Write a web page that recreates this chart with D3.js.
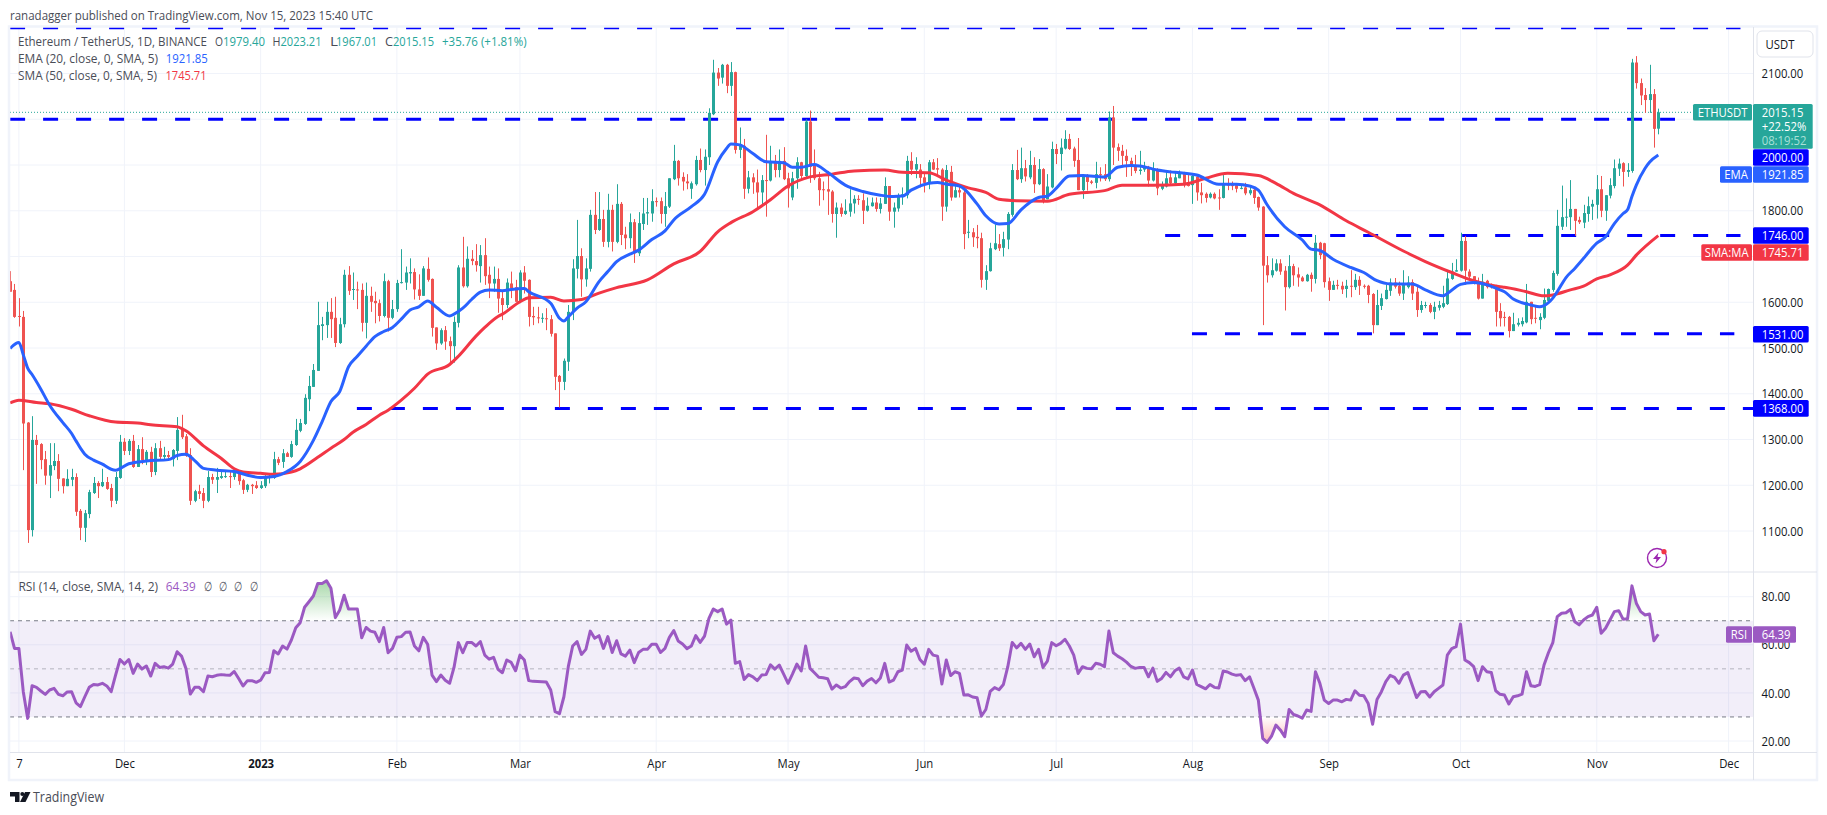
<!DOCTYPE html>
<html>
<head>
<meta charset="utf-8">
<title>ETHUSDT</title>
<script src="https://cdn.jsdelivr.net/npm/d3@7/dist/d3.min.js"></script>
<style>
  body { margin: 0; background: #fff; }
  svg { display: block; }
  text { font-family: "Open Sans", sans-serif; }
</style>
</head>
<body>
<svg id="chart" width="1827" height="815"></svg>
<script>
// daily candles, first bar is 2022-11-05
const firstDay = '2022-11-05';
const lastDay = '2023-11-15';

const opens = [
  1646,1627,1570,1568,1337,1102,1299,1290,1257,1221,
  1242,1253,1215,1198,1212,1218,1144,1107,1137,1183,
  1205,1198,1207,1194,1166,1216,1295,1275,1297,1240,
  1279,1255,1273,1229,1281,1262,1266,1257,1275,1321,
  1307,1266,1166,1187,1183,1166,1218,1212,1216,1218,
  1220,1218,1231,1211,1190,1201,1200,1194,1198,1216,
  1216,1257,1251,1270,1262,1288,1319,1334,1388,1415,
  1450,1548,1550,1579,1566,1511,1552,1660,1627,1628,
  1627,1555,1614,1603,1598,1570,1646,1566,1585,1642,
  1643,1663,1666,1628,1614,1673,1651,1545,1510,1539,
  1515,1504,1555,1676,1635,1695,1690,1679,1703,1660,
  1641,1651,1609,1594,1641,1633,1601,1665,1649,1570,
  1567,1565,1565,1563,1532,1439,1426,1470,1579,1673,
  1701,1650,1673,1791,1758,1782,1732,1802,1732,1815,
  1748,1740,1775,1707,1771,1794,1794,1821,1821,1793,
  1809,1869,1909,1874,1864,1848,1858,1911,1889,1917,
  2011,2102,2091,2119,2073,2103,1933,1942,1848,1873,
  1862,1840,1867,1866,1909,1889,1909,1871,1829,1871,
  1906,1876,1995,1898,1871,1847,1847,1842,1793,1807,
  1793,1798,1816,1826,1823,1800,1810,1818,1804,1815,
  1854,1798,1805,1834,1834,1909,1890,1890,1873,1861,
  1906,1893,1890,1809,1885,1829,1845,1840,1753,1753,
  1743,1740,1649,1668,1716,1727,1719,1737,1791,1889,
  1869,1893,1873,1900,1858,1891,1825,1851,1935,1924,
  1936,1957,1936,1911,1845,1874,1864,1861,1880,1880,
  1869,2004,1939,1931,1920,1909,1900,1887,1890,1896,
  1866,1890,1848,1853,1873,1860,1871,1882,1858,1856,
  1875,1840,1837,1829,1837,1829,1828,1858,1856,1856,
  1848,1851,1838,1846,1830,1809,1681,1659,1669,1685,
  1669,1633,1679,1661,1654,1646,1660,1651,1730,1729,
  1646,1627,1638,1636,1629,1636,1633,1649,1636,1636,
  1618,1550,1592,1607,1625,1643,1636,1619,1633,1644,
  1623,1583,1592,1594,1579,1588,1590,1596,1651,1667,
  1669,1734,1667,1657,1646,1608,1647,1638,1636,1581,
  1568,1568,1537,1551,1552,1556,1601,1566,1561,1566,
  1603,1627,1662,1765,1786,1786,1804,1780,1774,1793,
  1809,1813,1847,1800,1833,1854,1892,1904,1885,1887,
  2124,2079,2053,2042,2055,1979.40
];
const highs = [
  1668,1640,1609,1581,1338,1351,1310,1292,1275,1292,
  1292,1268,1215,1235,1236,1226,1148,1146,1190,1218,
  1209,1236,1218,1203,1229,1310,1303,1301,1310,1288,
  1305,1277,1284,1292,1297,1284,1275,1279,1349,1354,
  1312,1281,1190,1201,1194,1231,1225,1238,1231,1231,
  1229,1233,1233,1214,1203,1203,1209,1209,1222,1225,
  1273,1262,1279,1273,1297,1345,1345,1399,1439,1465,
  1601,1568,1601,1609,1612,1566,1671,1679,1665,1645,
  1641,1643,1634,1623,1606,1663,1649,1605,1649,1716,
  1678,1696,1674,1661,1679,1698,1652,1545,1543,1548,
  1525,1569,1681,1743,1722,1714,1727,1725,1740,1678,
  1678,1674,1627,1652,1667,1649,1670,1679,1650,1590,
  1590,1576,1587,1572,1532,1441,1477,1594,1694,1780,
  1718,1696,1802,1841,1841,1802,1837,1813,1858,1819,
  1765,1794,1782,1797,1828,1828,1847,1829,1829,1841,
  1871,1944,1911,1884,1880,1864,1920,1936,1934,2024,
  2130,2112,2121,2121,2125,2104,1982,1957,1887,1882,
  1890,1878,1966,1942,1922,1934,1939,1883,1885,1917,
  1907,2000,2019,1934,1885,1864,1887,1845,1818,1816,
  1825,1847,1834,1834,1838,1829,1829,1829,1828,1873,
  1854,1818,1838,1851,1920,1928,1917,1902,1884,1911,
  1913,1915,1893,1900,1898,1860,1856,1845,1780,1762,
  1769,1752,1681,1730,1770,1749,1754,1797,1902,1933,
  1938,1911,1931,1917,1913,1893,1880,1951,1946,1958,
  1976,1968,1940,1959,1880,1880,1867,1907,1895,1902,
  2017,2029,1947,1944,1934,1916,1922,1931,1907,1898,
  1906,1893,1864,1888,1888,1885,1888,1885,1878,1878,
  1878,1861,1840,1840,1840,1847,1878,1871,1864,1860,
  1858,1861,1853,1848,1831,1810,1701,1696,1694,1694,
  1679,1703,1684,1676,1657,1662,1665,1747,1732,1730,
  1654,1647,1649,1645,1649,1670,1662,1657,1639,1638,
  1620,1627,1619,1638,1652,1653,1645,1670,1657,1650,
  1634,1603,1601,1598,1601,1603,1636,1667,1686,1694,
  1752,1745,1672,1657,1654,1662,1649,1641,1638,1598,
  1579,1570,1577,1565,1567,1640,1601,1590,1576,1630,
  1630,1669,1802,1855,1827,1867,1804,1787,1813,1831,
  1824,1878,1876,1834,1871,1912,1914,1906,1904,2132,
  2138,2089,2068,2119,2066,2023.21
];
const lows = [
  1623,1566,1547,1233,1074,1088,1203,1235,1201,1172,
  1233,1187,1182,1198,1198,1133,1080,1076,1128,1181,
  1172,1196,1190,1152,1159,1214,1266,1266,1238,1240,
  1246,1244,1218,1222,1253,1255,1255,1241,1255,1301,
  1262,1157,1163,1170,1150,1163,1203,1183,1214,1216,
  1194,1212,1201,1181,1185,1181,1192,1192,1194,1204,
  1214,1244,1238,1262,1260,1286,1316,1332,1362,1415,
  1450,1517,1522,1522,1502,1509,1545,1616,1605,1585,
  1536,1521,1579,1554,1558,1567,1536,1563,1579,1641,
  1627,1641,1606,1605,1614,1645,1525,1496,1507,1496,
  1463,1468,1545,1632,1632,1681,1667,1643,1638,1609,
  1623,1577,1561,1587,1609,1601,1598,1619,1547,1550,
  1554,1555,1539,1525,1408,1370,1408,1450,1561,1652,
  1612,1634,1667,1749,1756,1721,1720,1711,1729,1725,
  1716,1718,1686,1701,1758,1769,1776,1809,1772,1765,
  1806,1867,1855,1844,1847,1826,1855,1884,1855,1900,
  2009,2073,2078,2057,2051,1925,1915,1826,1838,1837,
  1805,1813,1787,1864,1873,1873,1867,1807,1823,1848,
  1867,1874,1861,1867,1811,1823,1791,1774,1741,1787,
  1791,1787,1794,1813,1771,1798,1809,1798,1794,1815,
  1778,1763,1798,1813,1827,1878,1871,1851,1840,1847,
  1889,1878,1778,1798,1822,1829,1829,1716,1740,1721,
  1718,1632,1627,1667,1714,1712,1700,1716,1787,1867,
  1861,1864,1869,1839,1856,1816,1825,1849,1902,1888,
  1934,1933,1896,1845,1826,1844,1858,1849,1864,1865,
  1864,1900,1909,1900,1874,1876,1882,1879,1885,1853,
  1864,1834,1845,1851,1856,1856,1871,1851,1853,1815,
  1822,1816,1818,1827,1825,1802,1827,1845,1845,1840,
  1847,1834,1834,1815,1800,1550,1643,1654,1667,1660,
  1582,1630,1636,1634,1645,1645,1623,1641,1694,1632,
  1603,1627,1628,1618,1610,1611,1627,1616,1630,1598,
  1532,1550,1583,1606,1614,1630,1614,1605,1630,1605,
  1568,1577,1587,1576,1563,1582,1587,1594,1649,1667,
  1667,1638,1649,1639,1606,1608,1630,1630,1547,1547,
  1547,1523,1537,1547,1547,1554,1552,1554,1541,1563,
  1601,1623,1658,1758,1765,1758,1745,1771,1762,1776,
  1780,1783,1786,1778,1827,1849,1876,1853,1874,1883,
  2067,2031,2014,2014,1938,1967.01
];
const closes = [
  1623,1568,1568,1335,1102,1299,1288,1255,1221,1244,
  1253,1214,1198,1214,1218,1142,1107,1139,1185,1205,
  1198,1207,1192,1166,1218,1295,1275,1297,1240,1279,
  1255,1273,1229,1281,1262,1266,1262,1277,1321,1305,
  1264,1166,1187,1181,1166,1218,1212,1218,1220,1220,
  1218,1229,1209,1190,1201,1198,1194,1200,1218,1220,
  1257,1249,1270,1262,1290,1321,1336,1391,1417,1452,
  1550,1552,1579,1563,1511,1552,1660,1625,1629,1627,
  1555,1614,1601,1598,1570,1646,1566,1585,1642,1644,
  1665,1666,1628,1614,1674,1649,1544,1510,1539,1514,
  1504,1557,1676,1635,1695,1690,1681,1703,1657,1641,
  1651,1608,1594,1643,1630,1601,1665,1647,1568,1567,
  1565,1566,1563,1531,1437,1426,1472,1579,1674,1701,
  1650,1674,1791,1758,1782,1732,1802,1732,1815,1747,
  1740,1775,1707,1773,1794,1797,1821,1819,1793,1810,
  1871,1909,1871,1864,1860,1860,1911,1889,1918,2014,
  2102,2089,2119,2073,2103,1933,1942,1848,1873,1862,
  1840,1867,1866,1909,1889,1909,1869,1849,1871,1906,
  1876,1995,1896,1871,1845,1845,1842,1793,1807,1793,
  1800,1816,1826,1824,1800,1811,1818,1804,1816,1854,
  1798,1807,1834,1836,1909,1890,1902,1872,1861,1906,
  1890,1890,1809,1889,1829,1845,1840,1749,1754,1742,
  1740,1649,1668,1718,1729,1718,1738,1793,1889,1869,
  1893,1875,1900,1858,1891,1822,1853,1935,1924,1938,
  1957,1935,1909,1845,1877,1863,1861,1880,1878,1869,
  2004,1938,1931,1920,1909,1898,1887,1890,1898,1866,
  1890,1849,1858,1871,1860,1873,1884,1856,1854,1876,
  1840,1834,1828,1837,1827,1828,1858,1855,1854,1848,
  1850,1838,1845,1828,1807,1680,1659,1670,1685,1667,
  1633,1679,1659,1654,1646,1660,1651,1730,1703,1644,
  1627,1638,1636,1628,1636,1634,1649,1636,1634,1616,
  1550,1594,1609,1627,1643,1634,1619,1641,1643,1619,
  1583,1594,1594,1579,1590,1594,1598,1652,1667,1670,
  1734,1669,1656,1645,1608,1645,1633,1636,1579,1565,
  1566,1537,1552,1555,1559,1601,1563,1564,1568,1605,
  1629,1664,1767,1786,1787,1804,1778,1775,1795,1810,
  1815,1847,1800,1834,1856,1893,1903,1885,1889,2124,
  2079,2052,2042,2055,1979,2015.15
];

const emaBars = [
  0,2,3,4,5,7,9,12,14,15,16,17,19,21,23,24,27,31,36,38,40,42,44,47,51,54,57,60,63,66,69,71,73,75,77,79,81,83,85,87,
  89,91,93,95,97,100,101,103,105,107,109,112,114,117,118,123,125,126,127,129,131,134,136,138,141,143,146,149,151,155,
  158,161,163,164,166,169,172,176,178,180,183,186,190,194,198,201,203,205,209,211,213,216,220,222,225,227,230,232,234,236,
  238,241,244,249,252,255,257,261,265,270,275,279,282,284,286,290,294,296,298,301,305,308,311,314,319,322,326,327,330,333,
  336,339,340,342,344,346,348,350,351,352,354,356,358,361,363,365,367,368,369,370,372,373,375
];
const emaValues = [
  1499,1512,1485,1456,1442,1410,1375,1337,1313,1297,1281,1268,1255,1246,1235,1233,1247,1253,1256,1265,1268,1254,1237,1233,1230,1222,1217,1219,1230,1252,1298,1339,1383,1405,1459,1482,1504,1525,1536,1545,
  1563,1583,1590,1603,1589,1570,1574,1587,1606,1622,1627,1625,1628,1630,1623,1598,1565,1559,1568,1587,1601,1645,1667,1689,1705,1714,1737,1756,1780,1809,
  1836,1907,1936,1946,1944,1925,1907,1905,1895,1895,1901,1884,1856,1842,1834,1831,1832,1845,1860,1862,1858,1854,1815,1789,1771,1772,1802,1818,1829,1832,
  1849,1876,1877,1874,1895,1899,1898,1889,1884,1878,1858,1858,1854,1845,1813,1765,1736,1716,1713,1694,1676,1665,1647,1640,1640,1627,1614,1619,1639,1643,
  1638,1627,1623,1607,1599,1594,1590,1599,1609,1623,1654,1674,1696,1729,1743,1772,1794,1802,1831,1856,1893,1906,1921.85
];
const smaBars = [
  0,2,6,9,14,18,24,29,32,38,40,44,48,51,53,57,60,64,66,70,73,76,78,81,84,86,89,92,95,100,102,106,108,111,
  112,116,118,123,126,130,134,138,145,151,157,161,164,169,173,177,182,187,192,199,203,209,213,218,222,225,
  229,236,241,249,253,260,267,272,277,284,288,292,298,304,309,317,322,328,333,339,340,345,349,351,355,358,361,364,368,370,375
];
const smaValues = [
  1380,1386,1381,1378,1366,1352,1338,1336,1332,1328,1319,1286,1259,1236,1229,1226,1224,1229,1236,1261,1281,1300,1316,1333,1353,1364,1386,1412,1443,1464,1482,1526,1545,1569,
  1574,1601,1610,1611,1603,1606,1620,1632,1649,1684,1711,1754,1774,1798,1824,1854,1874,1880,1887,1889,1884,1883,1867,1850,1840,1825,
  1822,1821,1836,1844,1856,1856,1858,1871,1882,1877,1860,1838,1813,1778,1753,1712,1689,1665,1647,1634,1633,1623,1614,1616,1627,1635,1651,1660,1681,1703,1745.71
];

const rsiValues = [
  65.4,58.5,58.5,40.5,29.4,43,42.3,40.8,39.4,41.2,
  41.9,39.4,38.8,40.4,40.5,35.9,34.3,38.4,42.3,43.5,
  43.3,44,42.9,40.5,47.4,53.9,52,53.9,48.1,52,
  49.9,51.2,47,52.3,50.6,50.9,50.3,52,57.1,55.3,
  50.2,39.5,42.3,42.3,40.5,47,46.7,47.3,47.6,47.4,
  47.3,48.9,46,42.9,45.1,45.1,44.4,45.3,48.4,48.5,
  57.5,56.2,59.5,58.2,62,67.1,69.2,75.6,77.9,80.3,
  85.5,85.5,86.6,83.5,71.3,74.5,80.6,74.9,74.9,74.9,
  62.9,67.2,65.7,65.2,61.3,67.2,56.7,58.5,63.1,63.4,
  65.2,65.3,59.5,57.5,63.1,60.2,47.4,44.7,47.4,45.3,
  44,50.6,60.9,56.7,61,61,59.5,61.3,55.7,54,
  54.8,49.8,48.4,53.7,52.7,49.2,55.7,53.7,45.1,44.8,
  44.7,44.6,44.5,41.2,32.2,31.4,38.4,50.9,59.5,61.3,
  56,58.1,65.7,62.7,63.8,58.5,63.4,56.8,61.7,56.2,
  55.3,57.8,52.6,56.8,58.1,58.1,60.2,60.2,56.8,58.5,
  63.1,65.9,61.6,60.3,58.4,59.5,63.8,61,63.6,71,
  74.9,73.8,74.9,68.6,70.3,52.3,53,45.6,47.6,46.7,
  45.1,47.4,47.6,51.7,49.9,51.6,47.8,44,47.8,52,
  49.1,59.5,50.2,48.4,46.5,46.3,45.9,41.6,43.3,42,
  42.6,44.7,46.2,45.9,43,44.9,46,44.2,46.2,52.3,
  44.5,45.3,48.8,49.5,59.9,57.3,58.5,53.9,51.9,58.1,
  55.7,55.3,43.7,53.7,47.2,48.8,48.1,39.1,39.2,38.3,
  38,30.4,33.1,40.6,42.2,41.3,43.5,50.9,61,58.7,
  60.6,58.1,60.3,55,58.1,50.6,53.2,60.9,59.6,60.6,
  62.3,59.5,55.7,48.1,50.9,50.2,50,52.3,51.9,50.9,
  65.7,56.7,55.3,54.2,52.8,51,50.2,50.6,50.6,46.7,
  50.3,44.8,46,48.5,46.7,49.2,50.3,46.7,45.8,49.5,
  43.5,42.6,41.7,43.5,42.3,42,49.1,48.7,47.8,47.3,
  47.6,45.1,46.7,41.9,37,21.1,19.4,22,26.6,24.6,
  21.8,33.1,31,30.4,29.5,32.9,32.3,48.8,44,37,
  35.6,37,37,36.3,37.3,37,40.9,39,38.8,35.6,
  27,37.3,40.5,44.7,47.3,46.5,44,47.4,48.5,43.3,
  38.1,40.5,40.6,38.3,40.5,41.9,43.3,55.7,58.4,59.2,
  68.6,53.7,52.6,50.9,45.1,50.9,48.8,48.5,40.9,39.4,
  39.1,35.4,38.4,38.8,39.5,48.8,43,42.7,43.4,51.6,
  56.7,60.9,71.7,73.1,73.3,74.7,69.6,68.3,70.3,71.7,
  72.4,75.6,64.8,66.9,70.3,73.8,74.2,70.6,70.8,84.5,
  77.3,73.8,72.4,72.8,61.7,64.39
];

// horizontal levels drawn by the author, from bar to bar
const levelPrices = [2200, 2000, 1746, 1531, 1368];
const levelFrom = [0, 0, 262.8, 268.9, 78.9];
const levelTo = [393.7, 378.8, 393.7, 392.3, 396.6];

const priceGrid = [2100, 2000, 1900, 1800, 1700, 1600, 1500, 1400, 1300, 1200, 1100];
const priceTicks = [2100, 1800, 1600, 1500, 1400, 1300, 1200, 1100];
const rsiTicks = [80, 60, 40, 20];
const timeDates = ['2022-11-07', '2022-12-01', '2023-01-01', '2023-02-01', '2023-03-01', '2023-04-01',
  '2023-05-01', '2023-06-01', '2023-07-01', '2023-08-01', '2023-09-01', '2023-10-01', '2023-11-01', '2023-12-01'];
const timeLabels = ['7', 'Dec', '2023', 'Feb', 'Mar', 'Apr', 'May', 'Jun', 'Jul', 'Aug', 'Sep', 'Oct', 'Nov', 'Dec'];

const upColor = '#26a69a';
const downColor = '#ef5350';
const emaColor = '#2962ff';
const smaColor = '#f23645';
const rsiColor = '#9b59c2';
const levelColor = '#0000ff';
const gridColor = '#f0f3fa';
const borderColor = '#e0e3eb';
const textColor = '#131722';
const legendColor = '#4a4d57';

const paneLeft = 10, paneRight = 1753, paneTop = 27, paneBottom = 572, rsiBottom = 752, axisBottom = 780, outerRight = 1817;

const svg = d3.select('#chart');
const bar = i => d3.utcDay.offset(new Date(firstDay), i);

const x = d3.scaleUtc().domain([new Date(firstDay), new Date(lastDay)]).range([10.1, 1658.3]);
const y = d3.scaleLinear().domain([1100, 2100]).range([531, 73.5]);
const yRsi = d3.scaleLinear().domain([20, 80]).range([741, 596.7]);
const xBar = i => x(bar(0)) + i * (x(bar(1)) - x(bar(0)));

// the reference font runs narrower than Open Sans
const narrow = 0.87;
const squeeze = sel => sel.each(function () {
  d3.select(this).attr('textLength', this.getComputedTextLength() * narrow).attr('lengthAdjust', 'spacingAndGlyphs');
});

const defs = svg.append('defs');
defs.append('clipPath').attr('id', 'mainClip').append('rect')
  .attr('x', paneLeft).attr('y', paneTop).attr('width', paneRight - paneLeft).attr('height', paneBottom - paneTop);
defs.append('clipPath').attr('id', 'rsiClip').append('rect')
  .attr('x', paneLeft).attr('y', paneBottom).attr('width', paneRight - paneLeft).attr('height', rsiBottom - paneBottom);

const greenFade = defs.append('linearGradient').attr('id', 'greenFade').attr('gradientUnits', 'userSpaceOnUse')
  .attr('x1', 0).attr('x2', 0).attr('y1', yRsi(87)).attr('y2', yRsi(70));
greenFade.append('stop').attr('offset', 0).attr('stop-color', '#4caf50').attr('stop-opacity', 0.5);
greenFade.append('stop').attr('offset', 1).attr('stop-color', '#4caf50').attr('stop-opacity', 0);
const redFade = defs.append('linearGradient').attr('id', 'redFade').attr('gradientUnits', 'userSpaceOnUse')
  .attr('x1', 0).attr('x2', 0).attr('y1', yRsi(30)).attr('y2', yRsi(19));
redFade.append('stop').attr('offset', 0).attr('stop-color', '#ff5252').attr('stop-opacity', 0);
redFade.append('stop').attr('offset', 1).attr('stop-color', '#ff5252').attr('stop-opacity', 0.4);

// grid
const grid = svg.append('g');
grid.selectAll('.vgrid').data(timeDates).enter().append('line')
  .attr('x1', d => x(new Date(d))).attr('x2', d => x(new Date(d)))
  .attr('y1', paneTop).attr('y2', rsiBottom)
  .attr('stroke', gridColor).attr('stroke-width', 1);
grid.selectAll('.pgrid').data(priceGrid).enter().append('line')
  .attr('x1', paneLeft).attr('x2', paneRight)
  .attr('y1', d => y(d)).attr('y2', d => y(d))
  .attr('stroke', gridColor).attr('stroke-width', 1);
grid.selectAll('.rgrid').data(rsiTicks).enter().append('line')
  .attr('x1', paneLeft).attr('x2', paneRight)
  .attr('y1', d => yRsi(d)).attr('y2', d => yRsi(d))
  .attr('stroke', gridColor).attr('stroke-width', 1);

// main pane
const main = svg.append('g').attr('clip-path', 'url(#mainClip)');

main.selectAll('.level').data(levelPrices).enter().append('line')
  .attr('x1', (d, i) => xBar(levelFrom[i])).attr('x2', (d, i) => xBar(levelTo[i]))
  .attr('y1', d => y(d)).attr('y2', d => y(d))
  .attr('stroke', levelColor).attr('stroke-width', 3).attr('stroke-dasharray', '15 18');

main.append('line')
  .attr('x1', paneLeft).attr('x2', 1693)
  .attr('y1', y(closes[closes.length - 1])).attr('y2', y(closes[closes.length - 1]))
  .attr('stroke', upColor).attr('stroke-width', 1).attr('stroke-dasharray', '1 2');

const candles = main.selectAll('.candle').data(opens).enter().append('g');
candles.append('line')
  .attr('x1', (d, i) => Math.round(xBar(i)) + 0.5).attr('x2', (d, i) => Math.round(xBar(i)) + 0.5)
  .attr('y1', (d, i) => y(highs[i])).attr('y2', (d, i) => y(lows[i]))
  .attr('stroke', (d, i) => closes[i] >= d ? upColor : downColor);
candles.append('rect')
  .attr('x', (d, i) => Math.round(xBar(i)) - 1)
  .attr('width', 3)
  .attr('y', (d, i) => y(Math.max(d, closes[i])))
  .attr('height', (d, i) => Math.max(1, Math.abs(y(d) - y(closes[i]))))
  .attr('fill', (d, i) => closes[i] >= d ? upColor : downColor);

const avgLine = d3.line().x(d => xBar(d[0])).y(d => y(d[1])).curve(d3.curveMonotoneX);
main.append('path').datum(d3.zip(smaBars, smaValues))
  .attr('d', avgLine).attr('fill', 'none').attr('stroke', smaColor).attr('stroke-width', 3).attr('stroke-linejoin', 'round');
main.append('path').datum(d3.zip(emaBars, emaValues))
  .attr('d', avgLine).attr('fill', 'none').attr('stroke', emaColor).attr('stroke-width', 3).attr('stroke-linejoin', 'round');

// rsi pane
const rsiPane = svg.append('g').attr('clip-path', 'url(#rsiClip)');
rsiPane.append('rect')
  .attr('x', paneLeft).attr('width', paneRight - paneLeft)
  .attr('y', yRsi(70)).attr('height', yRsi(30) - yRsi(70))
  .attr('fill', '#7e57c2').attr('fill-opacity', 0.1);
rsiPane.append('path').datum(rsiValues)
  .attr('d', d3.area().x((d, i) => xBar(i)).y0(yRsi(70)).y1(d => yRsi(Math.max(d, 70))))
  .attr('fill', 'url(#greenFade)');
rsiPane.append('path').datum(rsiValues)
  .attr('d', d3.area().x((d, i) => xBar(i)).y0(yRsi(30)).y1(d => yRsi(Math.min(d, 30))))
  .attr('fill', 'url(#redFade)');
rsiPane.selectAll('.band').data([70, 50, 30]).enter().append('line')
  .attr('x1', paneLeft).attr('x2', paneRight)
  .attr('y1', d => yRsi(d)).attr('y2', d => yRsi(d))
  .attr('stroke', '#787b86').attr('stroke-opacity', d => d === 50 ? 0.5 : 1)
  .attr('stroke-dasharray', '4 4');
rsiPane.append('path').datum(rsiValues)
  .attr('d', d3.line().x((d, i) => xBar(i)).y(d => yRsi(d)))
  .attr('fill', 'none').attr('stroke', rsiColor).attr('stroke-width', 3).attr('stroke-linejoin', 'round');

// frame
const frame = svg.append('g');
frame.append('rect')
  .attr('x', 9).attr('y', 26.5).attr('width', outerRight - 9).attr('height', axisBottom - 26.5)
  .attr('fill', 'none').attr('stroke', gridColor).attr('stroke-width', 2.5);
[[paneLeft, paneBottom, outerRight, paneBottom], [paneLeft, rsiBottom + 0.5, outerRight, rsiBottom + 0.5], [paneRight + 0.5, paneTop, paneRight + 0.5, axisBottom]]
  .forEach(s => frame.append('line')
    .attr('x1', s[0]).attr('y1', s[1]).attr('x2', s[2]).attr('y2', s[3])
    .attr('stroke', borderColor).attr('stroke-width', 1));

// axes
const styleAxis = g => {
  g.select('.domain').remove();
  g.selectAll('.tick line').remove();
  g.selectAll('.tick text').attr('fill', textColor).attr('font-size', 13).style('font-family', '"Open Sans", sans-serif').call(squeeze);
};
svg.append('g').attr('transform', `translate(${paneRight},0)`)
  .call(d3.axisRight(y).tickValues(priceTicks).tickSize(0).tickPadding(8.5).tickFormat(d3.format('.2f')))
  .call(styleAxis);
svg.append('g').attr('transform', `translate(${paneRight},0)`)
  .call(d3.axisRight(yRsi).tickValues(rsiTicks).tickSize(0).tickPadding(8.5).tickFormat(d3.format('.2f')))
  .call(styleAxis);
svg.append('g').attr('transform', `translate(0,${rsiBottom})`)
  .call(d3.axisBottom(x).tickValues(timeDates.map(d => new Date(d))).tickSize(0).tickPadding(7)
    .tickFormat((d, i) => timeLabels[i]))
  .call(styleAxis)
  .selectAll('.tick text').attr('font-weight', (d, i) => timeLabels[i] === '2023' ? 700 : 400);

// price scale tags
const tag = (x0, x1, yMid, fill, label) => {
  svg.append('rect').attr('x', x0).attr('y', yMid - 8.3).attr('width', x1 - x0).attr('height', 16.6).attr('rx', 1.5).attr('fill', fill);
  svg.append('text').attr('x', x0 === paneRight ? 1761.7 : (x0 + x1) / 2).attr('y', yMid)
    .attr('dy', '.35em').attr('text-anchor', x0 === paneRight ? 'start' : 'middle')
    .attr('fill', '#fff').attr('font-size', 13).text(label).call(squeeze);
};
tag(paneRight, 1808.7, 157.5, levelColor, '2000.00');
tag(paneRight, 1808.7, 174.5, emaColor, '1921.85');
tag(1720, 1752, 174.5, emaColor, 'EMA');
tag(paneRight, 1808.7, 235.5, levelColor, '1746.00');
tag(paneRight, 1808.7, 252.5, smaColor, '1745.71');
tag(1701.3, 1752, 252.5, smaColor, 'SMA:MA');
tag(paneRight, 1808.7, 334.3, levelColor, '1531.00');
tag(paneRight, 1808.7, 408.4, levelColor, '1368.00');
tag(paneRight, 1796, 634.5, rsiColor, '64.39');
tag(1726, 1752, 634.5, rsiColor, 'RSI');
tag(1693, 1752, 112.3, upColor, 'ETHUSDT');

svg.append('rect').attr('x', paneRight).attr('y', 104).attr('width', 59.7).attr('height', 44.7).attr('rx', 1.5).attr('fill', upColor);
[['2015.15', 112.7, '#fff'], ['+22.52%', 126.7, '#fff'], ['08:19:52', 140.7, '#a8e0d8']].forEach(t => {
  svg.append('text').attr('x', 1761.7).attr('y', t[1]).attr('dy', '.35em')
    .attr('fill', t[2]).attr('font-size', 13).text(t[0]).call(squeeze);
});

// currency button
svg.append('rect').attr('x', 1757).attr('y', 31).attr('width', 56).attr('height', 26).attr('rx', 5)
  .attr('fill', '#fff').attr('stroke', borderColor);
svg.append('text').attr('x', 1780).attr('y', 44.5).attr('dy', '.35em').attr('text-anchor', 'middle')
  .attr('fill', textColor).attr('font-size', 13).text('USDT').call(squeeze);

// header and legends, each fitted to the width it has in the reference
const label = (px, py, str, fill, width) => svg.append('text')
  .attr('x', px).attr('y', py).attr('dy', '.35em').attr('fill', fill).attr('font-size', 13)
  .attr('textLength', width).attr('lengthAdjust', 'spacingAndGlyphs').text(str);

label(10, 15, 'ranadagger published on TradingView.com, Nov 15, 2023 15:40 UTC', legendColor, 363);

label(18, 41.7, 'Ethereum / TetherUS, 1D, BINANCE', legendColor, 189);
[[215, 'O'], [272.5, 'H'], [330, 'L'], [385, 'C']].forEach(t => label(t[0], 41.7, t[1], legendColor, 8));
[[223, '1979.40', 42], [280.5, '2023.21', 41], [336, '1967.01', 41], [393, '2015.15', 41], [442, '+35.76 (+1.81%)', 84.6]]
  .forEach(t => label(t[0], 41.7, t[1], upColor, t[2]));
label(18, 58.7, 'EMA (20, close, 0, SMA, 5)', legendColor, 140);
label(165.7, 58.7, '1921.85', emaColor, 42);
label(18, 75.7, 'SMA (50, close, 0, SMA, 5)', legendColor, 139);
label(165.5, 75.7, '1745.71', smaColor, 41);
label(18.4, 586.7, 'RSI (14, close, SMA, 14, 2)', legendColor, 139.6);
label(165.7, 586.7, '64.39', rsiColor, 30);
[204, 219, 234, 250].forEach(px => label(px, 586.7, '∅', legendColor, 8));

// lightning badge
const badge = svg.append('g').attr('transform', 'translate(1657,558)');
badge.append('circle').attr('r', 9.5).attr('fill', '#fff').attr('stroke', '#9c27b0').attr('stroke-width', 1.4);
badge.append('path').attr('d', 'M1.5,-5.5 L-4,1 L-0.5,1 L-1.5,5.5 L4,-1 L0.5,-1 Z').attr('fill', '#9c27b0');
badge.append('circle').attr('cx', 7).attr('cy', -6.3).attr('r', 2.6).attr('fill', '#f23645');

// footer logo
const logo = svg.append('g').attr('fill', '#131722');
logo.append('path').attr('d', 'M10,792 H19.5 V802 H15 V796.5 H10 Z');
logo.append('circle').attr('cx', 22.3).attr('cy', 794).attr('r', 2);
logo.append('path').attr('d', 'M25,792 H30.5 L25.5,802 H20 Z');
svg.append('text').attr('x', 33).attr('y', 797).attr('dy', '.35em').attr('fill', '#4a4d57').attr('font-size', 14.5)
  .attr('textLength', 71).attr('lengthAdjust', 'spacingAndGlyphs').text('TradingView');
</script>
</body>
</html>
